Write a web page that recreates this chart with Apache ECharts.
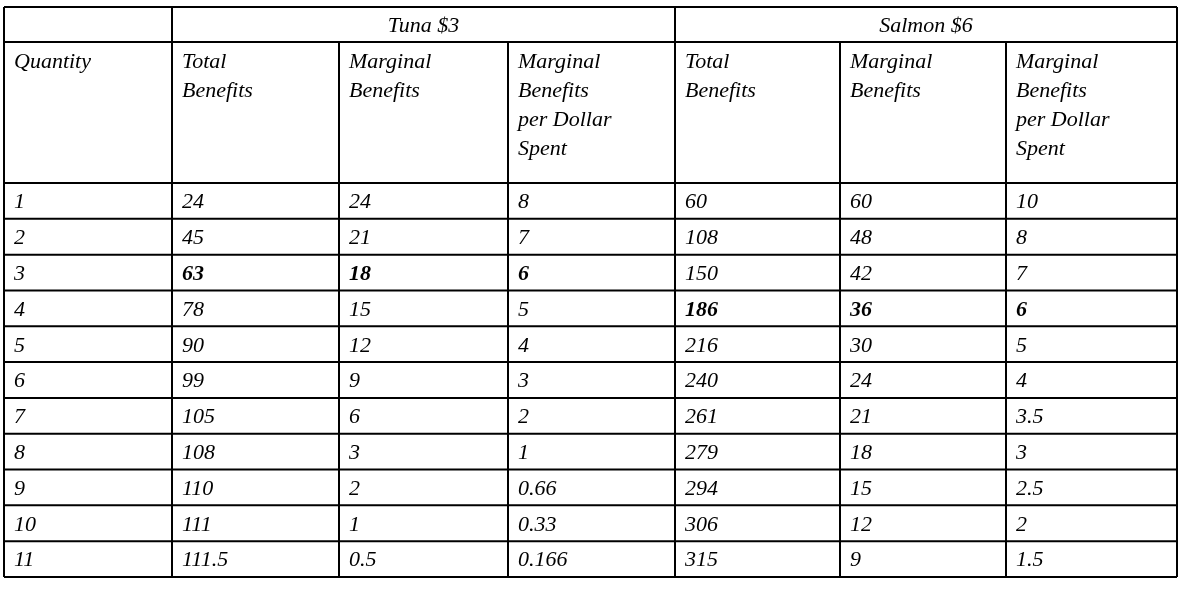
<!DOCTYPE html><html><head><meta charset="utf-8">
<script src="https://cdn.jsdelivr.net/npm/echarts@6/dist/echarts.min.js"></script>
<style>html,body{margin:0;background:#fff}#c{width:1186px;height:592px}</style></head><body><div id="c"></div>
<script>
const groups = ["Tuna $3", "Salmon $6"];
const headers = ["Quantity","Total\nBenefits","Marginal\nBenefits","Marginal\nBenefits\nper Dollar\nSpent","Total\nBenefits","Marginal\nBenefits","Marginal\nBenefits\nper Dollar\nSpent"];
const quantity = ["1","2","3","4","5","6","7","8","9","10","11"];
const tunaTotal = ["24","45","63","78","90","99","105","108","110","111","111.5"];
const tunaMarginal = ["24","21","18","15","12","9","6","3","2","1","0.5"];
const tunaPerDollar = ["8","7","6","5","4","3","2","1","0.66","0.33","0.166"];
const salmonTotal = ["60","108","150","186","216","240","261","279","294","306","315"];
const salmonMarginal = ["60","48","42","36","30","24","21","18","15","12","9"];
const salmonPerDollar = ["10","8","7","6","5","4","3.5","3","2.5","2","1.5"];
const boldRows = {tuna: 2, salmon: 3};

(function(){
const colX = [4,172,339,508,675,840,1006,1177];
const yTop = 7, h1 = 42, h2 = 183, yBottom = 577;
const rowH = (yBottom - h2) / quantity.length;
const els = [];
const line = (x1,y1,x2,y2) => els.push({type:'line',shape:{x1,y1,x2,y2},style:{stroke:'#000',lineWidth:2}});
const text = (x,y,t,bold,align) => els.push({type:'text',x,y,style:{text:t,font:(bold?'italic bold 22px "Liberation Serif"':'italic 22px "Liberation Serif"'),fill:'#000',align:align||'left',verticalAlign:'top',lineHeight:29}});
line(colX[0],yTop,colX[7],yTop);
line(colX[0],h1,colX[7],h1);
line(colX[0],h2,colX[7],h2);
for(let i=1;i<=quantity.length;i++) line(colX[0],h2+i*rowH,colX[7],h2+i*rowH);
[0,1,4,7].forEach(i=>line(colX[i],yTop,colX[i],yBottom));
[2,3,5,6].forEach(i=>line(colX[i],h1,colX[i],yBottom));
text((colX[1]+colX[4])/2,yTop+5,groups[0],false,'center');
text((colX[4]+colX[7])/2,yTop+5,groups[1],false,'center');
headers.forEach((t,i)=>text(colX[i]+10,h1+6,t,false));
const cols = [quantity,tunaTotal,tunaMarginal,tunaPerDollar,salmonTotal,salmonMarginal,salmonPerDollar];
cols.forEach((arr,c)=>arr.forEach((v,r)=>{
  const bold = (c>=1&&c<=3&&r===boldRows.tuna)||(c>=4&&r===boldRows.salmon);
  text(colX[c]+10,h2+r*rowH+5,v,bold);
}));
const chart = echarts.init(document.getElementById('c'));
chart.setOption({animation:false,graphic:{elements:els}});
})();
</script></body></html>
